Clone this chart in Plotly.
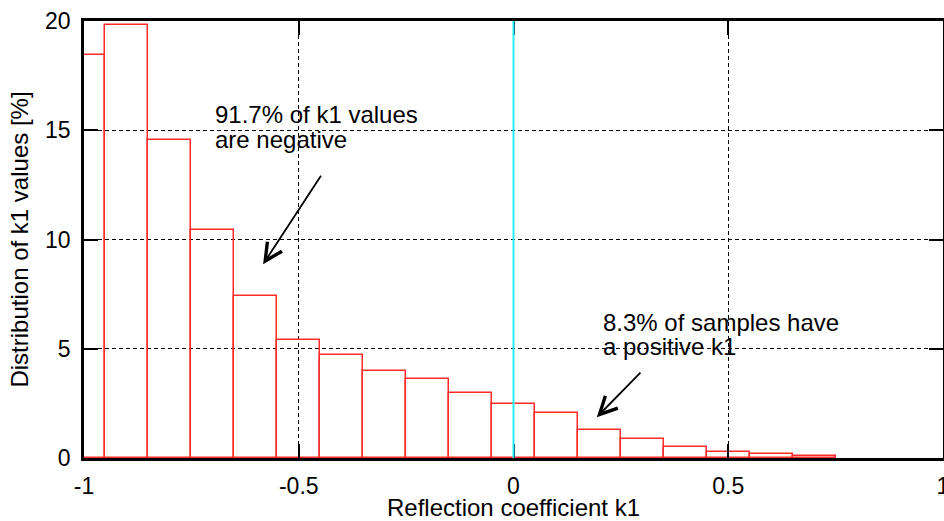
import plotly.graph_objects as go

# Histogram bins of reflection coefficient k1
bin_centers = [-0.975, -0.9, -0.8, -0.7, -0.6, -0.5, -0.4, -0.3, -0.2, -0.1,
               0.0, 0.1, 0.2, 0.3, 0.4, 0.5, 0.6, 0.7]
bin_widths = [0.05] + [0.1] * 17
percent = [18.44, 19.84, 14.54, 10.42, 7.41, 5.40, 4.71, 3.99, 3.63, 2.96,
           2.48, 2.07, 1.28, 0.87, 0.52, 0.29, 0.17, 0.11]

x_ticks = [-1, -0.5, 0, 0.5, 1]
x_tick_labels = ["-1", "-0.5", "0", "0.5", "1"]
y_ticks = [0, 5, 10, 15, 20]

note_neg = ["91.7% of k1 values", "are negative"]
note_pos = ["8.3% of samples have", "a positive k1"]

FONT = "Liberation Sans, Arial, sans-serif"

fig = go.Figure()
fig.add_trace(go.Bar(
    x=bin_centers, y=percent, width=bin_widths,
    marker=dict(color="rgba(0,0,0,0)", line=dict(color="#ff2a2a", width=1.5)),
    showlegend=False, hoverinfo="x+y",
))

# vertical cyan line at k1 = 0
fig.add_shape(type="line", xref="x", yref="paper", x0=0, x1=0, y0=0, y1=1,
              line=dict(color="#22f2fa", width=2), layer="above")

axis_common = dict(
    showline=True, linecolor="black", linewidth=2.5, mirror="ticks",
    ticks="inside", ticklen=14, tickwidth=2, tickcolor="black",
    showgrid=True, gridcolor="black", gridwidth=1, griddash="4px,3px",
    zeroline=False, automargin=False,
    tickfont=dict(family=FONT, size=23, color="black"),
)

fig.update_xaxes(range=[-1, 1], tickvals=x_ticks, ticktext=x_tick_labels,
                 ticklabeloverflow="allow", ticklabelstandoff=6,
                 title=dict(text="Reflection coefficient k1", standoff=4,
                            font=dict(family=FONT, size=24, color="black")),
                 **axis_common)
fig.update_yaxes(range=[0, 20], tickvals=y_ticks, ticklabelstandoff=6,
                 title=dict(text="Distribution of k1 values [%]", standoff=10,
                            font=dict(family=FONT, size=24, color="black")),
                 **axis_common)

ann_font = dict(family=FONT, size=24, color="black")
for txt, yy in zip(note_neg, [15.71, 14.56]):
    fig.add_annotation(x=-0.70, y=yy, xref="x", yref="y", xanchor="left",
                       yanchor="middle", text=txt, showarrow=False, font=ann_font)
for txt, yy in zip(note_pos, [6.20, 5.10]):
    fig.add_annotation(x=0.204, y=yy, xref="x", yref="y", xanchor="left",
                       yanchor="middle", text=txt, showarrow=False, font=ann_font)

fig.add_annotation(x=-0.583, y=8.87, ax=-0.446, ay=12.99, xref="x", yref="y",
                   axref="x", ayref="y", text="", showarrow=True, arrowhead=5,
                   arrowsize=1.9, arrowwidth=1.8, arrowcolor="black")
fig.add_annotation(x=0.194, y=1.87, ax=0.299, ay=3.98, xref="x", yref="y",
                   axref="x", ayref="y", text="", showarrow=True, arrowhead=5,
                   arrowsize=1.9, arrowwidth=1.8, arrowcolor="black")

fig.update_layout(
    template="none",
    width=944, height=521,
    margin=dict(l=84, r=1, t=21, b=63),
    plot_bgcolor="white", paper_bgcolor="white",
    bargap=0, font=dict(family=FONT, color="black"),
)

fig.write_html("out.html", config={"displayModeBar": False},
               post_script="document.body.style.margin='0';document.body.style.padding='0';")
